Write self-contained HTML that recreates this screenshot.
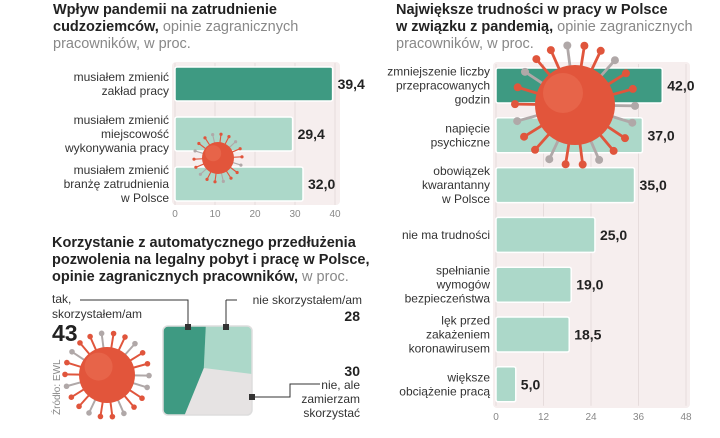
<!DOCTYPE html>
<html><head><meta charset="utf-8">
<style>
body{margin:0;width:720px;height:433px;background:#fff;overflow:hidden;font-family:"Liberation Sans","DejaVu Sans",sans-serif;}
svg text{font-family:"Liberation Sans","DejaVu Sans",sans-serif;}
.t{font-size:14.5px;font-weight:bold;fill:#222;}
.tl{font-size:14.5px;fill:#888;font-weight:normal;}
.lb{font-size:12px;fill:#333;}
.v{font-size:14px;font-weight:bold;fill:#222;}
.tk{font-size:10px;fill:#888;}
</style></head><body>
<svg id="c" width="720" height="433" viewBox="0 0 720 433" xmlns="http://www.w3.org/2000/svg">
<g>
<text class="t" x="53" y="14">Wpływ pandemii na zatrudnienie</text>
<text class="t" x="53" y="31">cudzoziemców, <tspan class="tl">opinie zagranicznych</tspan></text>
<text class="tl" x="53" y="48">pracowników, w proc.</text>
</g>
<g>
<text class="t" x="396" y="14">Największe trudności w pracy w Polsce</text>
<text class="t" x="396" y="31">w związku z pandemią, <tspan class="tl">opinie zagranicznych</tspan></text>
<text class="tl" x="396" y="48">pracowników, w proc.</text>
</g>
<g>
<text class="t" x="52" y="247">Korzystanie z automatycznego przedłużenia</text>
<text class="t" x="52" y="264">pozwolenia na legalny pobyt i pracę w Polsce,</text>
<text class="t" x="52" y="281">opinie zagranicznych pracowników, <tspan class="tl">w proc.</tspan></text>
</g>
<rect x="172" y="62" width="168" height="143" rx="4" fill="#f6eeee"/>
<rect x="493" y="62" width="197" height="346" rx="4" fill="#f6eeee"/>
<g id="left"></g>
<g id="right"></g>
<g id="deco"></g>
<g id="pie"></g>
<text x="0" y="0" transform="translate(60,415) rotate(-90)" font-size="10" fill="#888">Źródło: EWL</text>
</svg>
<script>
const NS="http://www.w3.org/2000/svg";
function mk(p,t,a){const e=document.createElementNS(NS,t);for(const k in a)e.setAttribute(k,a[k]);p.appendChild(e);return e;}

const leftCats=[["musiałem zmienić","zakład pracy"],["musiałem zmienić","miejscowość","wykonywania pracy"],["musiałem zmienić","branżę zatrudnienia","w Polsce"]];
const leftVals=[39.4,29.4,32.0];
const leftTicks=[0,10,20,30,40];

const rightCats=[["zmniejszenie liczby","przepracowanych","godzin"],["napięcie","psychiczne"],["obowiązek","kwarantanny","w Polsce"],["nie ma trudności"],["spełnianie","wymogów","bezpieczeństwa"],["lęk przed","zakażeniem","koronawirusem"],["większe","obciążenie pracą"]];
const rightVals=[42.0,37.0,35.0,25.0,19.0,18.5,5.0];
const rightTicks=[0,12,24,36,48];

const pieLabels=["tak, skorzystałem/am","nie skorzystałem/am","nie, ale zamierzam skorzystać"];
const pieVals=[43,28,30];

function barChart(g,cats,vals,ticks,x0,x1,max,y0,pitch,h,labelX,tickY,name){
  const sx=v=>x0+(x1-x0)*v/max;
  ticks.forEach(t=>{
    const l=mk(g,'line',{x1:sx(t),x2:sx(t),y1:y0-4,y2:y0+pitch*(vals.length-1)+h+4,stroke:'#e6dcdc','stroke-width':1});
    
    
    const tx=mk(g,'text',{x:sx(t),y:tickY,class:'tk','text-anchor':'middle'});tx.textContent=t;
    
    
  });
  vals.forEach((v,i)=>{
    const y=y0+i*pitch;
    const r=mk(g,'rect',{x:x0,y:y,width:sx(v)-x0,height:h,rx:2,fill:i==0?'#3e9a82':'#acd8c9',stroke:'#fff','stroke-width':1.5});
    
    
    const vt=mk(g,'text',{x:sx(v)+5,y:y+h/2+5,class:'v'});vt.textContent=v.toFixed(1).replace('.',',');
    
    
    const lines=cats[i];const lh=14;const sy=y+h/2-(lines.length-1)*lh/2+4;
    const ct=mk(g,'text',{x:labelX,y:sy,class:'lb','text-anchor':'end'});
    
    
    lines.forEach((s,j)=>{const ts=mk(ct,'tspan',{x:labelX,y:sy+j*lh});ts.textContent=s;});
  });
}
barChart(document.getElementById('left'),leftCats,leftVals,leftTicks,175,335,40,67,50,34,169,217,'left');
barChart(document.getElementById('right'),rightCats,rightVals,rightTicks,496,686,48,68,49.8,35,490,420,'right');

// decorative viruses
function virus(cx,cy,r,n){
  const g=mk(document.getElementById('deco'),'g',{});
  
  
  for(let i=0;i<n;i++){const a=i*2*Math.PI/n+0.3;const c=i%3==0?'#b0a8a8':'#e0553c';
    mk(g,'line',{x1:cx,y1:cy,x2:cx+Math.cos(a)*r*1.5,y2:cy+Math.sin(a)*r*1.5,stroke:c,'stroke-width':Math.max(1,r*0.07)});
    mk(g,'circle',{cx:cx+Math.cos(a)*r*1.5,cy:cy+Math.sin(a)*r*1.5,r:r*0.1,fill:c});}
  mk(g,'circle',{cx:cx,cy:cy,r:r,fill:'#e2553b'});
  mk(g,'circle',{cx:cx-r*0.3,cy:cy-r*0.3,r:r*0.5,fill:'#ec7358',opacity:0.5});
}
virus(218,158,16,18);
virus(575,105,40,22);
virus(107,375,28,22);

// usage square chart
(function(){
  const g=document.getElementById('pie');
  const X=163,Y=326,W=89,H=89,tot=pieVals[0]+pieVals[1]+pieVals[2];
  const a=pieVals[0]/tot;
  const topX=X+W*a*1.13, botX=X+W*a*0.57;
  const b=pieVals[1]/tot;
  const midY=Y+H*b*1.7;
  mk(g,'rect',{x:X,y:Y,width:W,height:H,rx:5,fill:'#e6e3e3'});
  const p2=mk(g,'path',{d:`M${topX},${Y} L${X+W-5},${Y} Q${X+W},${Y} ${X+W},${Y+5} L${X+W},${midY+6} L${topX-2},${midY} Z`,fill:'#acd8c9'});
  
  
  const p1=mk(g,'path',{d:`M${X+5},${Y} L${topX},${Y} L${topX-2},${midY} L${botX},${Y+H} L${X+5},${Y+H} Q${X},${Y+H} ${X},${Y+H-5} L${X},${Y+5} Q${X},${Y} ${X+5},${Y} Z`,fill:'#3e9a82'});
  
  
  mk(g,'rect',{x:X,y:Y,width:W,height:H,rx:5,fill:'none',stroke:'#ddd','stroke-width':1.5});
  const L=(d)=>mk(g,'path',{d:d,fill:'none',stroke:'#333','stroke-width':1});
  L(`M80,300 L188,300 L188,327`);L(`M226,300 L237,300`);L(`M226,300 L226,327`);L(`M252,397 L290,397 L290,384 L320,384`);
  [[188,327],[226,327],[252,397]].forEach(p=>mk(g,'rect',{x:p[0]-3,y:p[1]-3,width:6,height:6,fill:'#333'}));
  const T=(x,y,s,c,anchor)=>{const t=mk(g,'text',{x:x,y:y,class:c,'text-anchor':anchor||'start'});t.textContent=s;return t;};
  T(52,303,'tak,','lb');T(52,318,'skorzystałem/am','lb');
  const v1=T(52,341,pieVals[0],'v');v1.setAttribute('style','font-size:23px');
  T(362,304,'nie skorzystałem/am','lb','end');T(360,321,pieVals[1],'v','end');
  T(360,376,pieVals[2],'v','end');T(360,389,'nie, ale','lb','end');T(360,403,'zamierzam','lb','end');T(360,417,'skorzystać','lb','end');
})();
</script>
</body></html>
